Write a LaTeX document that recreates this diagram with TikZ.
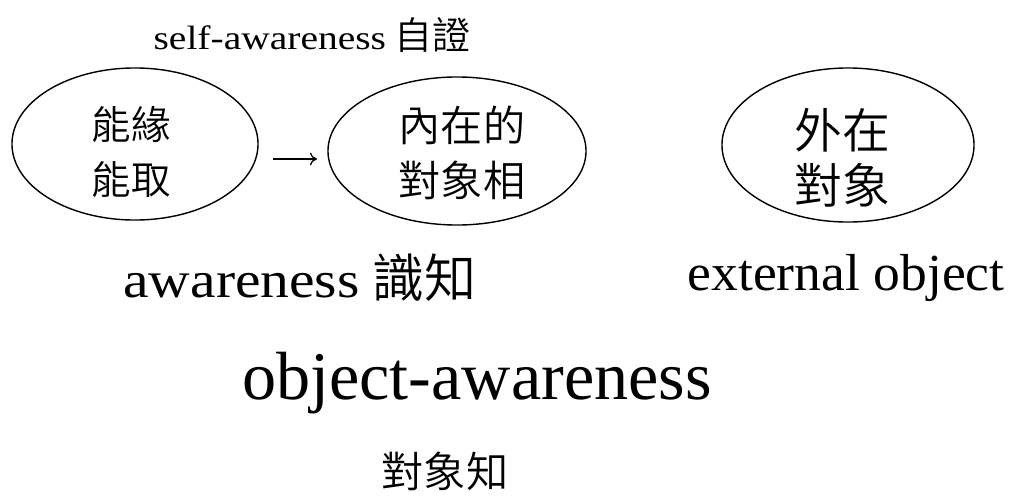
\documentclass[tikz,border=0pt]{standalone}
\usepackage{fontspec}
\setmainfont{Liberation Serif}
\IfFontExistsTF{Noto Sans CJK TC DemiLight}
  {\newfontfamily\cjk{Noto Sans CJK TC DemiLight}}
  {\newfontfamily\cjk{Noto Sans CJK TC}}
\usetikzlibrary{shapes.geometric,arrows.meta}

\begin{document}
\begin{tikzpicture}[x=0.025cm,y=-0.025cm,
  oval/.style={ellipse,draw,line width=1pt,inner sep=0pt},
  intext/.style={align=center,inner sep=0pt,font=\cjk\fontsize{28}{39}\selectfont}]
  \useasboundingbox (0,0) rectangle (1014,500);
  \node (selfaw) at (312,35) {\fontsize{24}{28}\selectfont
    \scalebox{1.17}[1]{self-awareness} {\cjk\fontsize{27}{28}\selectfont 自證}};
  %
  \node[oval,minimum width=6.15cm,minimum height=3.8cm] (grasp) at (135,144) {};
  \node[intext] (grasptxt) at (131,152) {能緣\\能取};
  \node[oval,minimum width=6.45cm,minimum height=3.7cm] (inner) at (457,151) {};
  \node[intext,font=\cjk\fontsize{30}{39}\selectfont] (innertxt) at (462,153) {內在的\\對象相};
  \node[oval,minimum width=6.3cm,minimum height=3.85cm] (outer) at (848,145) {};
  \node[intext,font=\cjk\fontsize{34}{39}\selectfont] (outertxt) at (842,158) {外在\\對象};
  \coordinate (arra) at (273,159);
  \coordinate (arrb) at (317,159);
  \draw[line width=0.9pt,-{To[length=5pt,width=9pt]}] (arra) -- (arrb);
  %
  \node (aware) at (300,278) {\fontsize{36.5}{40}\selectfont
    \scalebox{1.12}[1]{awareness} {\cjk\fontsize{37}{40}\selectfont 識知}};
  \node (extobj) at (846,278) {\fontsize{37}{40}\selectfont \scalebox{1.03}[1]{external object}};
  \node (objaw) at (477,383) {\fontsize{48.5}{52}\selectfont object-awareness};
  \node (objzhi) at (445,471) {\cjk\fontsize{30}{36}\selectfont 對象知};
\end{tikzpicture}
\end{document}
